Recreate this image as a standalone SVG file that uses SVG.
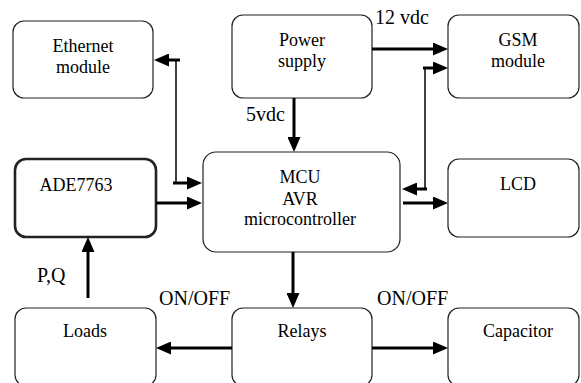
<svg xmlns="http://www.w3.org/2000/svg" width="581" height="383" viewBox="0 0 581 383">
<style>
.box{fill:#fff;stroke:#222;stroke-width:1.2}
.thick{stroke-width:2.6}
text{font-family:'Liberation Serif','DejaVu Serif',serif;fill:#000}
.t{font-size:18px;text-anchor:middle}
.lbl{font-size:20px}
.c{fill:none;stroke:#000;stroke-width:3}
.thin{fill:none;stroke:#000;stroke-width:1.5}
</style>
<defs>
<marker id="ah" markerUnits="userSpaceOnUse" markerWidth="16" markerHeight="13" refX="1" refY="6.5" orient="auto">
<path d="M0,0 L15,6.5 L0,13 z" fill="#000"/>
</marker>
</defs>
<rect width="581" height="383" fill="#fff"/>
<g id="ethernet"><rect class="box" x="13" y="21" width="140" height="77" rx="11"/><text class="t" x="83" y="52" font-family="Liberation Serif, serif">Ethernet</text><text class="t" x="83" y="73" font-family="Liberation Serif, serif">module</text></g>
<g id="power"><rect class="box" x="232" y="15" width="140" height="83" rx="11"/><text class="t" x="302" y="46">Power</text><text class="t" x="302" y="67">supply</text></g>
<g id="gsm"><rect class="box" x="448" y="15" width="131" height="83" rx="11"/><text class="t" x="518" y="46">GSM</text><text class="t" x="518" y="67">module</text></g>
<g id="ade"><rect class="box thick" x="15" y="159" width="141" height="78" rx="11"/><text class="t" x="76" y="191">ADE7763</text></g>
<g id="mcu"><rect class="box" x="203" y="152" width="197" height="100" rx="13"/><text class="t" x="300" y="182.5">MCU</text><text class="t" x="300" y="204.5">AVR</text><text class="t" x="300" y="225">microcontroller</text></g>
<g id="lcd"><rect class="box" x="448" y="159" width="131" height="78" rx="11"/><text class="t" x="518" y="190">LCD</text></g>
<g id="loads"><rect class="box" x="15" y="308" width="141" height="78" rx="11"/><text class="t" x="85" y="337">Loads</text></g>
<g id="relays"><rect class="box" x="232" y="308" width="140" height="78" rx="11"/><text class="t" x="302" y="337">Relays</text></g>
<g id="capacitor"><rect class="box" x="448" y="308" width="131" height="78" rx="11"/><text class="t" x="518" y="337">Capacitor</text></g>
<g id="connectors">
<path class="thin" d="M176,60 V183"/>
<path class="c" d="M180,60 H168" marker-end="url(#ah)"/>
<path class="c" d="M173,183 H188" marker-end="url(#ah)"/>
<path class="c" d="M372,49 H434" marker-end="url(#ah)"/>
<path class="thin" d="M425,68 V189"/>
<path class="c" d="M423,68 H434" marker-end="url(#ah)"/>
<path class="c" d="M427,189 H416" marker-end="url(#ah)"/>
<path class="c" d="M294,98 V138" marker-end="url(#ah)"/>
<path class="c" d="M156,203 H188" marker-end="url(#ah)"/>
<path class="c" d="M403,203 H434" marker-end="url(#ah)"/>
<path class="c" d="M293,252 V294" marker-end="url(#ah)"/>
<path class="c" d="M88,298 V251" marker-end="url(#ah)"/>
<path class="c" d="M232,348 H170" marker-end="url(#ah)"/>
<path class="c" d="M372,348 H434" marker-end="url(#ah)"/>
</g>
<g id="labels">
<text class="lbl" x="375" y="24">12 vdc</text>
<text class="lbl" x="246" y="121">5vdc</text>
<text class="lbl" x="37" y="282">P,Q</text>
<text class="lbl" x="159" y="305">ON/OFF</text>
<text class="lbl" x="377" y="305">ON/OFF</text>
</g>
</svg>
